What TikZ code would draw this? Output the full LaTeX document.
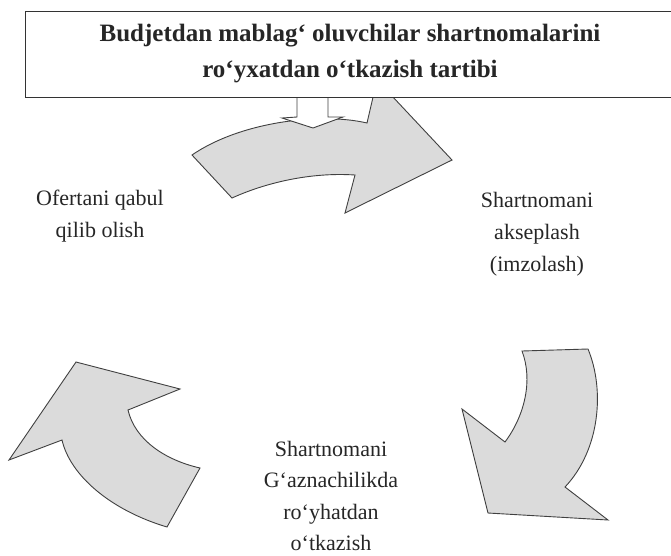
\documentclass[tikz,border=0pt]{standalone}
\usepackage{fontspec}
\setmainfont{Liberation Serif}
\usetikzlibrary{positioning}

\begin{document}
\begin{tikzpicture}[x=1pt,y=-1pt,
  every node/.style={font=\fontsize{22}{32}\selectfont,text=black!85,align=center},
  blockarrow/.style={draw=black!75,line width=0.9pt,fill=black!14,line join=miter},
  titlebox/.style={draw=black!80,line width=0.9pt,fill=white,minimum width=650pt,minimum height=86pt,
    font=\fontsize{25}{36}\selectfont\bfseries}]
\useasboundingbox (0,0) rectangle (671,555);
% top arrow, goes under the title
\draw[blockarrow] (192,155) .. controls (240,122) and (320,112) .. (367,123)
  -- (377,80) -- (452,160) -- (345,213) -- (355,175)
  .. controls (310,172) and (265,183) .. (232,198) -- cycle;
\draw[blockarrow,fill=white] (297,90) -- (297,117) -- (282,118) -- (313,128)
  -- (343,117) -- (328,117) -- (328,90);
\node[titlebox] (title) at (350,54) {Budjetdan mablag‘ oluvchilar shartnomalarini\\ro‘yxatdan o‘tkazish tartibi};
% right arrow
\draw[blockarrow] (522,351) -- (588,349) .. controls (605,390) and (600,450) .. (565,487)
  -- (608,520) -- (488,513) -- (462,409) -- (505,442)
  .. controls (525,415) and (533,380) .. (522,351) -- cycle;
% left arrow
\draw[blockarrow] (76,362) -- (180,389) -- (128,410) .. controls (135,440) and (165,460) .. (200,468)
  -- (167,527) .. controls (110,510) and (70,475) .. (62,440) -- (9,460) -- cycle;
% steps
\node (offer) at (100,216) {Ofertani qabul\\qilib olish};
\node (accept) at (537,234) {Shartnomani\\akseplash\\(imzolash)};
\node[inner sep=0pt,font=\fontsize{22}{31.5}\selectfont] (register) at (331,496) {Shartnomani\\G‘aznachilikda\\ro‘yhatdan\\o‘tkazish};
\end{tikzpicture}
\end{document}
